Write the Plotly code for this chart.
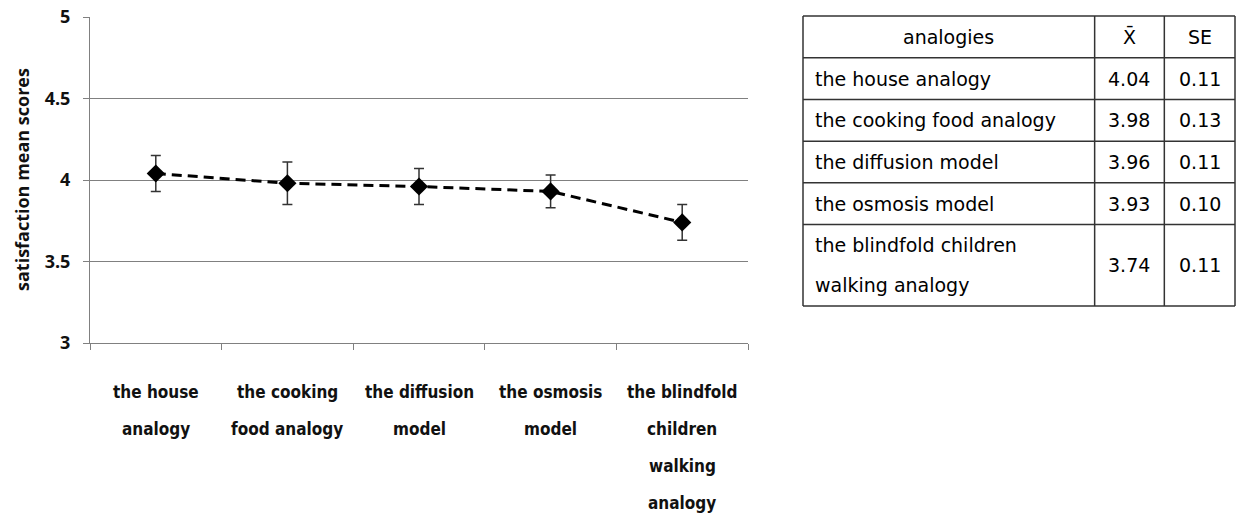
import plotly.graph_objects as go

# --- data -------------------------------------------------------------
categories = [
    "the house analogy",
    "the cooking food analogy",
    "the diffusion model",
    "the osmosis model",
    "the blindfold children walking analogy",
]
axis_label_lines = [
    ["the house", "analogy"],
    ["the cooking", "food analogy"],
    ["the diffusion", "model"],
    ["the osmosis", "model"],
    ["the blindfold", "children", "walking", "analogy"],
]
table_label_lines = [
    ["the house analogy"],
    ["the cooking food analogy"],
    ["the diffusion model"],
    ["the osmosis model"],
    ["the blindfold children", "walking analogy"],
]
means = [4.04, 3.98, 3.96, 3.93, 3.74]
se = [0.11, 0.13, 0.11, 0.10, 0.11]
table_header = ["analogies", "X\u0304", "SE"]

# --- page geometry (pixels) --------------------------------------------
W, H = 1241, 517
PLOT_L, PLOT_R, PLOT_T, PLOT_B = 90, 748, 17, 343
TAB_L, TAB_T = 802, 15
COL_W = [293, 70, 71]          # table column widths
ROW_H, LINE_GAP = 42, 40       # single-line row height, extra per wrapped line
GRID = "#808080"
INK = "#111111"

def px_x(p):
    return p / W

def px_y(p):
    return 1 - p / H

fig = go.Figure()

fig.add_trace(go.Scatter(
    x=categories,
    y=means,
    mode="lines+markers",
    line=dict(color="black", width=3, dash="10px,6px"),
    marker=dict(symbol="diamond", size=14, color="black"),
    error_y=dict(type="data", array=se, visible=True,
                 color="#333333", thickness=1.5, width=5),
    showlegend=False,
    hoverinfo="skip",
))

# --- table (own invisible axes, units = pixels from table's top-left) ---
row_heights = [ROW_H] + [ROW_H + LINE_GAP * (len(l) - 1) for l in table_label_lines]
tab_h = sum(row_heights)
tab_w = sum(COL_W)
col_edges = [0]
for w in COL_W:
    col_edges.append(col_edges[-1] + w)
row_edges = [0]
for h in row_heights:
    row_edges.append(row_edges[-1] + h)

line_style = dict(color="#333333", width=1.5)
for xe in col_edges:
    fig.add_shape(type="line", xref="x2", yref="y2", x0=xe, x1=xe,
                  y0=0, y1=tab_h, line=line_style)
for ye in row_edges:
    fig.add_shape(type="line", xref="x2", yref="y2", x0=0, x1=tab_w,
                  y0=ye, y1=ye, line=line_style)

tab_font = dict(family="DejaVu Sans, Arial, sans-serif", size=19, color="black")
col_centers = [(col_edges[i] + col_edges[i + 1]) / 2 for i in range(3)]

for i, txt in enumerate(table_header):
    fig.add_annotation(xref="x2", yref="y2", x=col_centers[i],
                       y=row_heights[0] / 2, text=txt, showarrow=False,
                       xanchor="center", yanchor="middle", font=tab_font)

for r, lines in enumerate(table_label_lines):
    top = row_edges[r + 1]
    h = row_heights[r + 1]
    n = len(lines)
    for k, ln in enumerate(lines):
        yc = top + h / 2 + (k - (n - 1) / 2) * LINE_GAP
        fig.add_annotation(xref="x2", yref="y2", x=10, y=yc, text=ln,
                           showarrow=False, xanchor="left", yanchor="middle",
                           font=tab_font)
    fig.add_annotation(xref="x2", yref="y2", x=col_centers[1], y=top + h / 2,
                       text=f"{means[r]:.2f}", showarrow=False,
                       xanchor="center", yanchor="middle", font=tab_font)
    fig.add_annotation(xref="x2", yref="y2", x=col_centers[2], y=top + h / 2,
                       text=f"{se[r]:.2f}", showarrow=False,
                       xanchor="center", yanchor="middle", font=tab_font)

# --- category labels under the x axis -----------------------------------
cat_font = dict(family="Liberation Sans Narrow, DejaVu Sans Condensed, Arial Narrow, sans-serif",
                size=17, color=INK, weight="bold")
first_line_y, cat_line_gap = 392, 37
for cat, lines in zip(categories, axis_label_lines):
    for k, ln in enumerate(lines):
        fig.add_annotation(xref="x", yref="paper", x=cat,
                           y=px_y(first_line_y + k * cat_line_gap),
                           text=ln, showarrow=False, xanchor="center",
                           yanchor="middle", font=cat_font)

# y axis title
fig.add_annotation(xref="paper", yref="paper", x=px_x(22),
                   y=px_y((PLOT_T + PLOT_B) / 2),
                   text="<b>satisfaction mean scores</b>", textangle=-90,
                   showarrow=False, xanchor="center", yanchor="middle",
                   font=dict(family="Open Sans, Liberation Sans, sans-serif",
                             size=18, color=INK))

fig.update_layout(
    width=W, height=H,
    margin=dict(l=0, r=0, t=0, b=0, pad=0, autoexpand=False),
    paper_bgcolor="white",
    plot_bgcolor="white",
    xaxis=dict(
        domain=[px_x(PLOT_L), px_x(PLOT_R)],
        type="category",
        range=[-0.5, len(categories) - 0.5],
        tickson="boundaries",
        ticks="outside", ticklen=6, tickcolor=GRID, tickwidth=1,
        showticklabels=False,
        showline=True, linecolor=GRID, linewidth=1,
        showgrid=False, zeroline=False,
        automargin=False,
        anchor="y",
    ),
    yaxis=dict(
        domain=[px_y(PLOT_B), px_y(PLOT_T)],
        range=[3, 5], dtick=0.5, tick0=3,
        ticks="outside", ticklen=6, tickcolor=GRID, tickwidth=1,
        tickfont=dict(family="Open Sans, Liberation Sans, sans-serif",
                      size=18, color=INK, weight="bold"),
        ticklabelstandoff=9,
        showline=True, linecolor=GRID, linewidth=1,
        showgrid=True, gridcolor=GRID, gridwidth=1,
        zeroline=False,
        automargin=False,
        anchor="x",
    ),
    xaxis2=dict(
        domain=[px_x(TAB_L), px_x(TAB_L + tab_w)],
        range=[-1, tab_w + 1], visible=False, anchor="y2",
        automargin=False,
    ),
    yaxis2=dict(
        domain=[px_y(TAB_T + tab_h), px_y(TAB_T)],
        range=[tab_h + 1, -1], visible=False, anchor="x2",
        automargin=False,
    ),
)

fig.write_html("out.html")
